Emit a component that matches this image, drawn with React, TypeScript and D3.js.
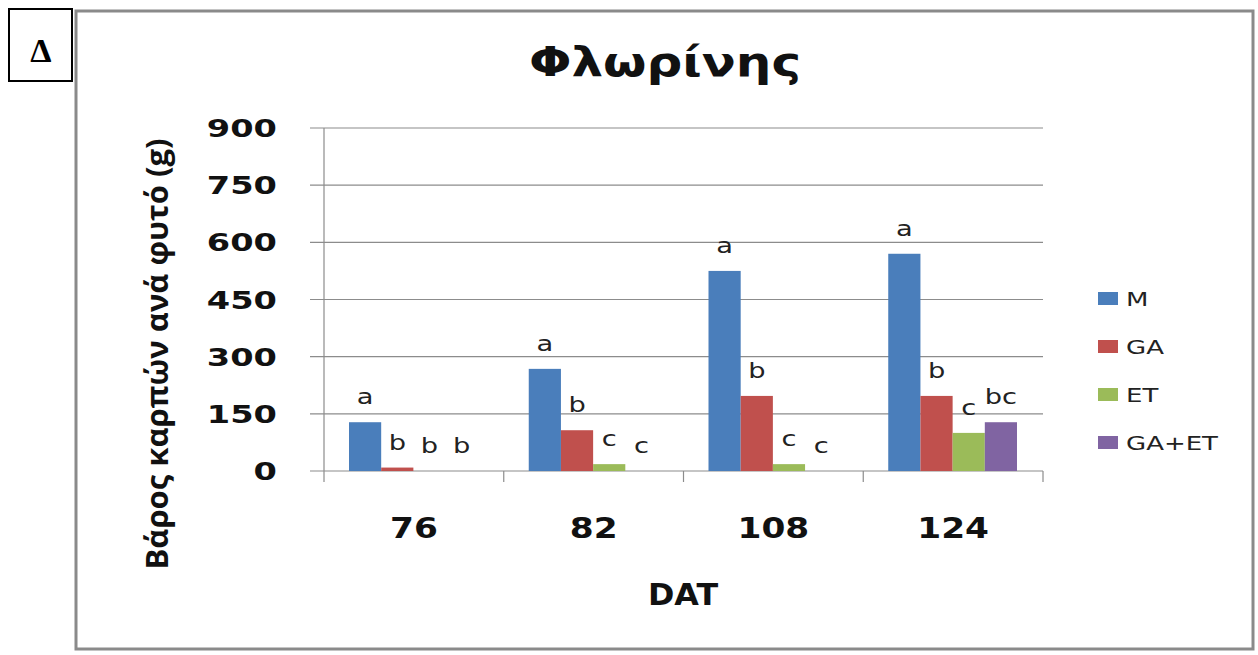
import React from "react";
import * as d3 from "d3";

const categories = ["76", "82", "108", "124"];
const seriesNames = ["M", "GA", "ET", "GA+ET"];
const seriesColors = ["#4a7ebb", "#c0504d", "#9bbb59", "#8064a2"];
const valuesM = [128, 268, 525, 570];
const valuesGA = [9, 107, 197, 197];
const valuesET = [0, 18, 18, 100];
const valuesGAET = [0, 0, 0, 128];
const lettersM = ["a", "a", "a", "a"];
const lettersGA = ["b", "b", "b", "b"];
const lettersET = ["b", "c", "c", "c"];
const lettersGAET = ["b", "c", "c", "bc"];
const yTicks = [0, 150, 300, 450, 600, 750, 900];

const allValues = [valuesM, valuesGA, valuesET, valuesGAET];
const allLetters = [lettersM, lettersGA, lettersET, lettersGAET];

const FONT = "'DejaVu Sans', Verdana, sans-serif";

function SText({ x, y, sx = 1, anchor = "start", size, bold = false, fill = "#111", children }: any) {
  return (
    <text
      transform={`translate(${x},${y}) scale(${sx},1)`}
      textAnchor={anchor}
      fontFamily={FONT}
      fontWeight={bold ? "bold" : "normal"}
      fontSize={size}
      fill={fill}
    >
      {children}
    </text>
  );
}

export default function App() {
  const W = 1258, H = 655;
  const left = 324, right = 1043, top = 128, bottom = 471;
  const y = d3.scaleLinear().domain([0, 900]).range([bottom, top]);
  const x0 = d3.scaleBand().domain(categories).range([left, right]).paddingInner(0).paddingOuter(0);
  const x1 = d3.scaleBand().domain(seriesNames).range([25, x0.bandwidth() - 26]).padding(0);
  return (
    <svg width={W} height={H} style={{ position: "absolute", left: 0, top: 0 }}>
      <rect x={0} y={0} width={W} height={H} fill="#fff" />
      {/* Δ box */}
      <rect x={9} y={9} width={63} height={72} fill="#fff" stroke="#000" strokeWidth={2} />
      <text x={41} y={62} textAnchor="middle" fontFamily="'Liberation Serif', 'Times New Roman', serif" fontWeight="bold" fontSize={34}>Δ</text>
      {/* frame */}
      <rect x={76} y={11} width={1177} height={638} fill="none" stroke="#8a8a8a" strokeWidth={3} />
      {/* title */}
      <SText x={665} y={76} sx={1.25} anchor="middle" size={40} bold>Φλωρίνης</SText>
      {/* gridlines */}
      {yTicks.map((t) => (
        <line key={t} x1={310} x2={right} y1={y(t)} y2={y(t)} stroke="#8c8c8c" strokeWidth={1.2} />
      ))}
      {/* y axis */}
      <line x1={left} x2={left} y1={top} y2={bottom + 11} stroke="#8c8c8c" strokeWidth={1.2} />
      {categories.map((c) => (
        <line key={c} x1={(x0(c) as number) + x0.bandwidth()} x2={(x0(c) as number) + x0.bandwidth()} y1={bottom} y2={bottom + 11} stroke="#8c8c8c" strokeWidth={1.2} />
      ))}
      {yTicks.map((t) => (
        <SText key={t} x={277} y={y(t) + 9} sx={1.4} anchor="end" size={24} bold>{t}</SText>
      ))}
      {/* bars */}
      {categories.map((c, ci) => (
        <g key={c} transform={`translate(${x0(c)},0)`}>
          {seriesNames.map((s, si) => {
            const v = allValues[si][ci];
            return (
              <g key={s}>
                <rect x={x1(s)} y={y(v)} width={x1.bandwidth()} height={bottom - y(v)} fill={seriesColors[si]} />
                <SText x={(x1(s) as number) + x1.bandwidth() / 2} y={y(v) - 18} sx={1.3} anchor="middle" size={21} fill="#222">{allLetters[si][ci]}</SText>
              </g>
            );
          })}
        </g>
      ))}
      {/* x labels */}
      {categories.map((c) => (
        <SText key={c} x={(x0(c) as number) + x0.bandwidth() / 2} y={538} sx={1.25} anchor="middle" size={27.5} bold>{c}</SText>
      ))}
      <SText x={683} y={605} sx={1.06} anchor="middle" size={30} bold>DAT</SText>
      <text transform={`translate(168,354) rotate(-90)`} textAnchor="middle" fontFamily="'Open Sans', sans-serif" fontWeight="bold" fontSize={31} fill="#111">Βάρος καρπών ανά φυτό (g)</text>
      {/* legend */}
      {seriesNames.map((s, i) => (
        <g key={s}>
          <rect x={1098} y={292 + i * 48} width={20} height={13} fill={seriesColors[i]} />
          <SText x={1126} y={306 + i * 48} sx={1.3} size={20} fill="#222">{s}</SText>
        </g>
      ))}
    </svg>
  );
}
